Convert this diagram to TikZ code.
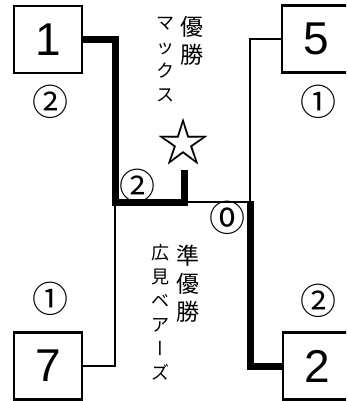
\documentclass[tikz,border=0pt]{standalone}
\usepackage{fontspec}
\setmainfont{Liberation Sans}
\newfontfamily\jp{Noto Sans CJK JP}
\newfontfamily\jpv[RawFeature=+vert]{Noto Sans CJK JP}
\begin{document}
\begin{tikzpicture}[x=1pt,y=-1pt,
  team/.style={draw, line width=2.5pt, minimum width=68pt, minimum height=67pt, inner sep=0pt, font=\fontsize{46}{46}\selectfont},
  thinline/.style={line width=2pt},
  thickline/.style={line width=7pt},
  score/.style={font=\jp\fontsize{36}{36}\selectfont, inner sep=0pt},
  bigv/.style={font=\jp\fontsize{23}{28}\selectfont, align=center, inner sep=0pt},
  smallv/.style={font=\jp\fontsize{18}{24}\selectfont, align=center, inner sep=0pt},
]
\useasboundingbox (0,0) rectangle (346,401);
\clip (0,0) rectangle (346,401);
% teams
\node[team] (b1) at (48,39.5) {1};
\node[team] (b5) at (316,39) {5};
\node[team] (b7) at (48,366) {7};
\node[team] (b2) at (317,366) {2};
% junctions
\coordinate (jL) at (115,202);
\coordinate (jC) at (181,202);
\coordinate (jR) at (250,202);
\coordinate (top) at (181,170);
% star
\node[font=\jp\fontsize{52}{52}\selectfont, inner sep=0pt] (star) at (183,142) {☆};
% connectors
\draw[thinline] (jC) -- (jR);
\draw[thinline] (jR) |- (b5.west);
\draw[thinline] (jL) |- (b7.east);
\draw[thickline] (b1.east) -| (jL) -- ([xshift=3.5pt]jC) -- ([xshift=3.5pt]top);
\draw[thickline] ([yshift=1pt]jR) |- (b2.west);
% scores
\node[score] (s1) at (50,102) {②};
\node[score] (s5) at (318,102) {①};
\node[score] (s7) at (50,299) {①};
\node[score] (s2) at (318,301) {②};
\node[score] (sf1) at (137,186) {②};
\node[score] (sf2) at (227,218) {⓪};
% texts
\node[bigv] (win) at (192,40.5) {優\\勝};
\node[smallv] (winner) at (165,60) {マ\\ッ\\ク\\ス};
\node[bigv] (ru) at (188,283.5) {準\\優\\勝};
\node[smallv] (runner) at (160,312) {広\\見\\ベ\\ア\\{\jpv ー}\\ズ};
\end{tikzpicture}
\end{document}
